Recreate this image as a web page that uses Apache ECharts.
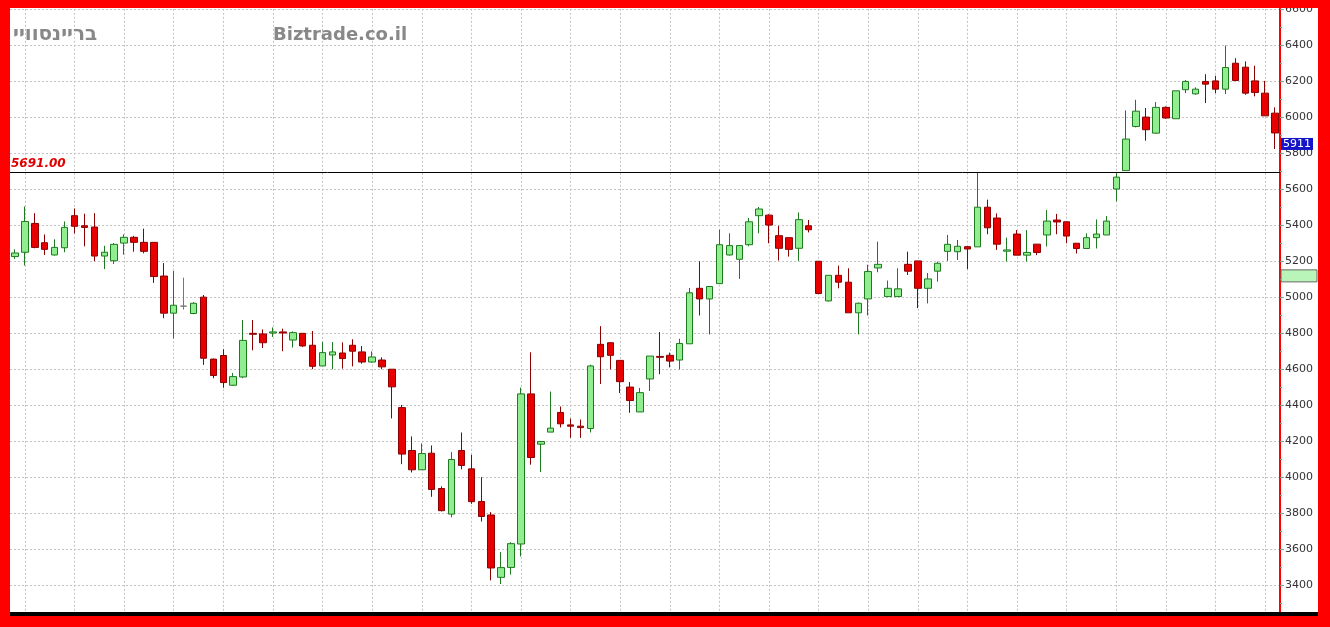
<!DOCTYPE html>
<html><head><meta charset="utf-8">
<script src="https://cdn.jsdelivr.net/npm/echarts@6/dist/echarts.min.js"></script>
<style>html,body{margin:0;padding:0;background:#ff0000;}#c{width:1330px;height:627px;}</style>
</head><body><div id="c"></div>
<script>
const categories = [1,2,3,4,5,6,7,8,9,10,11,12,13,14,15,16,17,18,19,20,21,22,23,24,25,26,27,28,29,30,31,32,33,34,35,36,37,38,39,40,41,42,43,44,45,46,47,48,49,50,51,52,53,54,55,56,57,58,59,60,61,62,63,64,65,66,67,68,69,70,71,72,73,74,75,76,77,78,79,80,81,82,83,84,85,86,87,88,89,90,91,92,93,94,95,96,97,98,99,100,101,102,103,104,105,106,107,108,109,110,111,112,113,114,115,116,117,118,119,120,121,122,123,124,125,126,127,128];
const openVals = [5225,5249,5409,5302,5234,5274,5452,5396,5389,5228,5202,5300,5332,5304,5304,5117,4911,4950,4909,5000,4656,4676,4511,4557,4799,4796,4801,4807,4762,4799,4733,4618,4679,4690,4733,4696,4640,4651,4600,4387,4149,4042,4134,3938,3796,4149,4047,3866,3791,3445,3500,3630,4463,4184,4251,4360,4291,4284,4271,4738,4747,4649,4501,4363,4546,4671,4677,4651,4741,5049,4990,5075,5234,5210,5291,5452,5455,5341,5330,5271,5396,5199,4979,5121,5083,4913,4990,5162,5003,5003,5182,5201,5049,5144,5254,5252,5280,5279,5499,5439,5255,5350,5233,5294,5345,5428,5418,5299,5270,5330,5345,5600,5702,5947,5999,5910,6053,5990,6151,6128,6197,6200,6154,6298,6276,6200,6132,6021];
const closeVals = [5245,5420,5276,5265,5276,5387,5393,5387,5228,5249,5293,5332,5304,5254,5114,4911,4955,4950,4966,4661,4565,4526,4559,4760,4794,4747,4807,4801,4803,4729,4616,4692,4696,4659,4700,4640,4668,4613,4502,4129,4042,4132,3933,3815,4099,4066,3865,3783,3497,3499,3632,4463,4110,4199,4273,4297,4284,4276,4618,4669,4677,4531,4426,4470,4673,4666,4645,4743,5024,4990,5059,5291,5286,5286,5418,5489,5400,5271,5265,5430,5374,5020,5121,5083,4913,4966,5142,5182,5049,5046,5144,5049,5101,5188,5293,5282,5267,5499,5385,5294,5262,5233,5248,5248,5422,5417,5339,5270,5330,5350,5422,5666,5877,6032,5929,6053,5994,6145,6197,6154,6182,6154,6274,6202,6132,6136,6006,5911];
const lowVals = [5212,5175,5271,5234,5230,5249,5354,5282,5200,5156,5184,5236,5252,5243,5079,4883,4770,4931,4905,4624,4550,4497,4507,4550,4705,4718,4779,4700,4720,4723,4600,4618,4600,4603,4616,4631,4637,4600,4327,4073,4027,4042,3892,3811,3778,4044,3853,3755,3428,3408,3460,3561,4070,4029,4251,4277,4219,4219,4249,4518,4599,4468,4358,4363,4479,4572,4610,4599,4741,4898,4793,5075,5230,5101,5282,5354,5299,5203,5225,5201,5359,5016,4976,5049,4913,4793,4898,5138,5003,5003,5123,4939,4965,5086,5201,5206,5156,5279,5349,5262,5198,5233,5198,5233,5281,5349,5299,5242,5270,5270,5345,5532,5702,5942,5868,5907,5990,5990,6132,6123,6077,6132,6127,6199,6123,6114,6006,5822];
const highVals = [5265,5503,5466,5348,5321,5420,5492,5463,5466,5285,5300,5348,5340,5380,5304,5189,5145,5108,4972,5012,4659,4711,4579,4873,4873,4821,4832,4825,4810,4799,4812,4751,4751,4749,4766,4729,4699,4666,4600,4402,4227,4188,4177,3950,4140,4249,4125,4001,3807,3585,3640,4498,4694,4199,4476,4393,4326,4321,4625,4839,4750,4649,4529,4496,4673,4806,4692,4769,5051,5199,5059,5374,5354,5286,5439,5500,5460,5396,5330,5470,5428,5199,5121,5175,5160,4970,5180,5308,5092,5160,5252,5201,5134,5197,5345,5317,5282,5694,5541,5464,5330,5372,5372,5294,5483,5462,5418,5299,5354,5431,5450,5689,6036,6095,6049,6082,6058,6145,6205,6164,6237,6228,6396,6326,6308,6284,6200,6053];
const refLevel = 5691;
const lastPrice = 5911;
const markerLevel = 5118;
const titleLeft = 'בריינסוויי';
const titleSite = 'Biztrade.co.il';

const chart = echarts.init(document.getElementById('c'), null, {renderer: 'canvas'});
const data = categories.map((c, i) => [openVals[i], closeVals[i], lowVals[i], highVals[i]]);
const dotted = {color: '#c4c4c4', width: 1, type: [2, 2]};
chart.setOption({
  animation: false,
  backgroundColor: '#ffffff',
  grid: {left: 10, right: 50, top: 8.8, bottom: 3.5},
  xAxis: {
    type: 'category', data: categories, boundaryGap: true,
    axisLine: {show: false}, axisTick: {show: false}, axisLabel: {show: false},
    splitLine: {show: true, alignWithLabel: true, interval: (idx) => idx % 5 === 1, lineStyle: dotted}
  },
  yAxis: {
    type: 'value', position: 'right', min: 3200, max: 6600, interval: 200, scale: true,
    axisLine: {show: true, lineStyle: {color: '#ff0000', width: 2}},
    axisTick: {show: true, length: 4, lineStyle: {color: '#999'}},
    minorTick: {show: true, splitNumber: 2, length: 2, lineStyle: {color: '#999'}},
    axisLabel: {color: '#333', fontFamily: 'DejaVu Sans', fontSize: 11, margin: 5, formatter: (v) => String(v)},
    splitLine: {show: true, lineStyle: dotted}
  },
  series: [{
    type: 'candlestick', data: data, barWidth: 7,
    itemStyle: {color: '#90ee90', color0: '#e80000', borderColor: '#1e7a1e', borderColor0: '#8b0000', borderColorDoji: '#777777', borderWidth: 1},
    markLine: {
      silent: true, symbol: ['none', 'none'], animation: false,
      data: [{yAxis: refLevel}],
      lineStyle: {color: '#000', width: 1, type: 'solid'},
      label: {show: true, position: 'insideStartTop', formatter: () => refLevel.toFixed(2), color: '#e00000', fontStyle: 'italic', fontWeight: 'bold', fontSize: 12, fontFamily: 'DejaVu Sans', distance: [1, 3]}
    }
  }]
});

const yLast = chart.convertToPixel({yAxisIndex: 0}, lastPrice);
const yMark = chart.convertToPixel({yAxisIndex: 0}, markerLevel);
chart.setOption({
  graphic: [
    {type: 'text', left: 13, top: 25, z: 100, style: {text: titleLeft, fill: '#888', font: 'bold 20px "DejaVu Sans"'}},
    {type: 'text', left: 273, top: 26, z: 100, style: {text: titleSite, fill: '#888', font: 'bold 18px "DejaVu Sans"'}},
    {type: 'rect', z: 100, shape: {x: 1281, y: yLast + 5, width: 32, height: 12}, style: {fill: '#1414c8'}},
    {type: 'text', z: 101, x: 1297, y: yLast + 11, style: {text: String(lastPrice), fill: '#fff', font: '11px "DejaVu Sans"', align: 'center', verticalAlign: 'middle'}},
    {type: 'rect', z: 100, shape: {x: 1281, y: yMark - 6, width: 36, height: 12}, style: {fill: '#b9f5b9', stroke: '#666', lineWidth: 1}},
    {type: 'rect', z: 110, shape: {x: 10, y: 612, width: 1308, height: 4}, style: {fill: '#000'}},
    {type: 'rect', z: 110, shape: {x: 0, y: 0, width: 10, height: 627}, style: {fill: '#ff0000'}},
    {type: 'rect', z: 110, shape: {x: 0, y: 0, width: 1330, height: 8}, style: {fill: '#ff0000'}},
    {type: 'rect', z: 110, shape: {x: 1318, y: 0, width: 12, height: 627}, style: {fill: '#ff0000'}},
    {type: 'rect', z: 110, shape: {x: 0, y: 616, width: 1330, height: 11}, style: {fill: '#ff0000'}}
  ]
});
</script></body></html>
